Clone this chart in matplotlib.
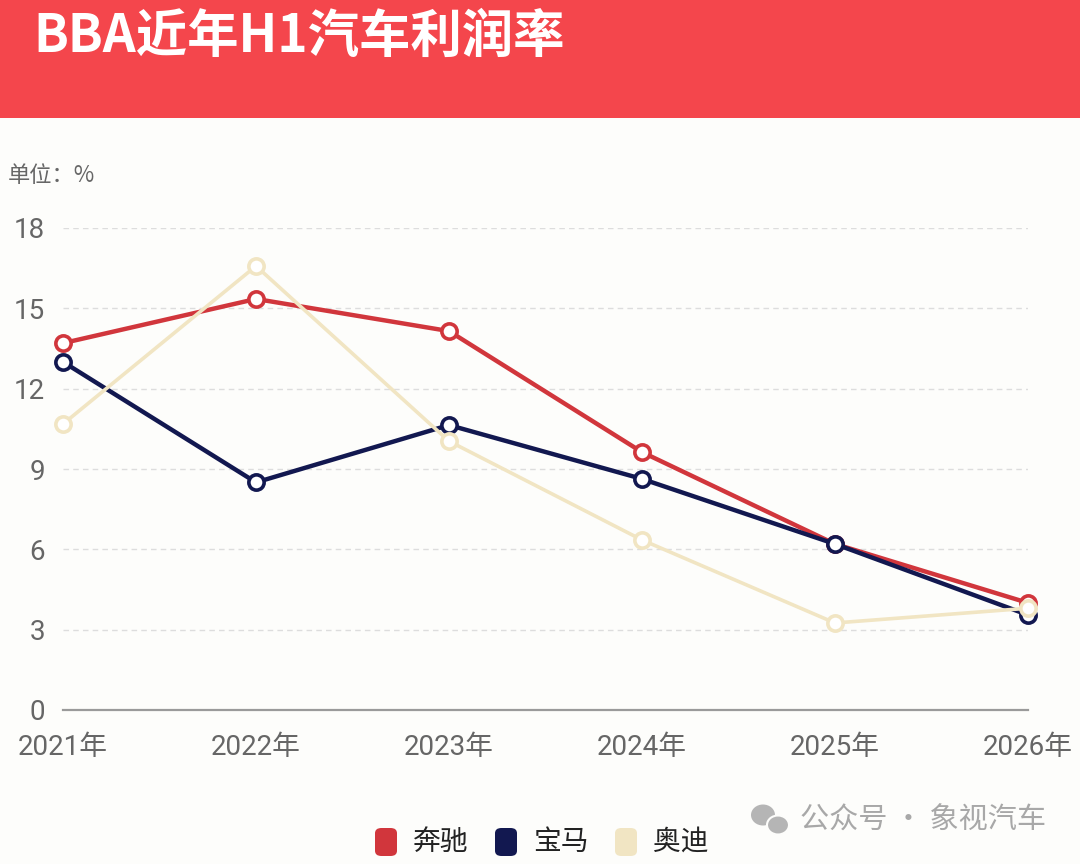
import matplotlib.pyplot as plt
from matplotlib.patches import Rectangle, FancyBboxPatch, Ellipse

plt.rcParams['font.family'] = ['Roboto', 'Noto Sans CJK SC', 'DejaVu Sans']

years = ['2021年', '2022年', '2023年', '2024年', '2025年', '2026年']
benz = [13.7, 15.35, 14.15, 9.63, 6.2, 4.0]
bmw = [13.0, 8.5, 10.64, 8.63, 6.2, 3.55]
audi = [10.68, 16.58, 10.04, 6.35, 3.25, 3.8]
y_ticks = [0, 3, 6, 9, 12, 15, 18]

series = [
    ('奔驰', benz, '#D1363C', 3.2),
    ('宝马', bmw, '#121850', 3.2),
    ('奥迪', audi, '#F1E5C3', 2.6),
]

W, H = 1080, 864
fig = plt.figure(figsize=(10.8, 8.64), dpi=100)
fig.patch.set_facecolor('#FDFDFB')

# red title band
fig.patches.append(Rectangle((0, 1 - 118 / H), 1, 118 / H, transform=fig.transFigure,
                             facecolor='#F4464C', edgecolor='none', zorder=0))
fig.text(33 / W, 1 - 36 / H, 'BBA近年H1汽车利润率', color='white', fontsize=37,
         fontweight='bold', va='center', ha='left', family=['Noto Sans CJK SC'])
fig.text(8 / W, 1 - 176 / H, '单位：%', color='#666666', fontsize=16,
         va='center', ha='left', family=['Noto Sans CJK SC'])

ax = fig.add_axes([63 / W, 154 / H, 965 / W, 482 / H])
ax.set_facecolor('none')
x = list(range(len(years)))
for name, vals, color, lw in series:
    ax.plot(x, vals, color=color, lw=lw, marker='o', markersize=11,
            markerfacecolor='white', markeredgecolor=color, markeredgewidth=2.6,
            clip_on=False, zorder=3, label=name)

ax.set_xlim(0, 5)
ax.set_ylim(0, 18)
ax.set_yticks(y_ticks)
ax.set_xticks(x)
ax.set_xticklabels(years)
for s in ['top', 'right', 'left']:
    ax.spines[s].set_visible(False)
ax.spines['bottom'].set_color('#9A9A9A')
ax.spines['bottom'].set_linewidth(1.6)
ax.tick_params(axis='both', length=0, labelcolor='#666666', labelsize=20)
ax.tick_params(axis='x', pad=17)
ax.tick_params(axis='y', pad=13)
for yv in y_ticks[1:]:
    ax.axhline(yv, color='#DDDDDD', lw=1, ls=(0, (4, 3)), zorder=1)

# legend at bottom
lx = [375, 495, 615]
for (name, vals, color, lw), px in zip(series, lx):
    fig.patches.append(FancyBboxPatch((px / W, 1 - 856 / H), 22 / W, 28 / H,
                                      boxstyle='round,pad=0,rounding_size=0.006',
                                      transform=fig.transFigure, facecolor=color,
                                      edgecolor='none'))
    fig.text((px + 38) / W, 1 - 842 / H, name, fontsize=20, color='#222222',
             va='center', ha='left', family=['Noto Sans CJK SC'])

# watermark
fig.patches.append(Ellipse((763 / W, 1 - 815 / H), 24 / W, 21 / H, transform=fig.transFigure,
                           facecolor='#B5B5B5', edgecolor='none'))
fig.patches.append(Ellipse((778 / W, 1 - 825 / H), 22 / W, 19 / H, transform=fig.transFigure,
                           facecolor='#B5B5B5', edgecolor='#FDFDFB', lw=1.5))
fig.text(800 / W, 1 - 821 / H, '公众号 · 象视汽车', fontsize=21, color='#A8A8A8',
         va='center', ha='left', family=['Noto Sans CJK SC'])

fig.savefig('out.png', dpi=100, facecolor=fig.get_facecolor())
